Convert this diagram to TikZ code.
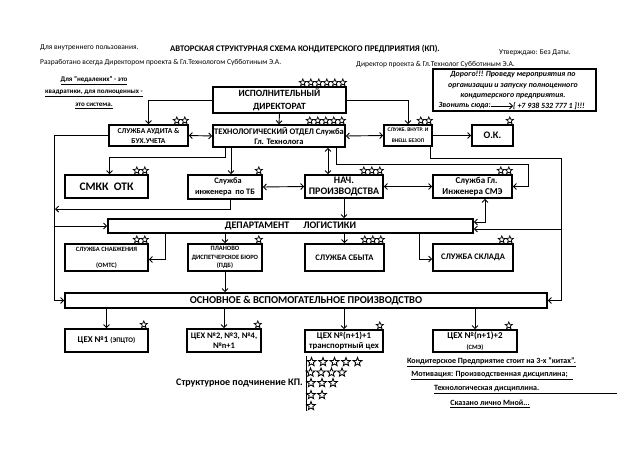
\documentclass[tikz,border=0pt]{standalone}
\usepackage{fontspec}
\setmainfont{Carlito}
\usetikzlibrary{arrows.meta,shapes.geometric}
\newcommand\fsz[2]{\fontsize{#1}{#2}\selectfont}
\newcommand\starsat[3]{%
  \foreach \k in {1,...,#2}{%
    \node[starshape] (#1-s\k) at ([xshift={#3-4-8*(\k-1)}, yshift=3.6pt]#1.north east) {};
  }}
\begin{document}
\begin{tikzpicture}[x=1pt,y=-1pt,
  box/.style={draw, line width=1.6pt, inner sep=0pt, align=center, font=\bfseries},
  arr/.style={line width=0.9pt, -{Straight Barb[length=3pt,width=6pt]}},
  dbl/.style={line width=0.9pt, {Straight Barb[length=3pt,width=6pt]}-{Straight Barb[length=3pt,width=6pt]}},
  starshape/.style={star, star points=5, star point ratio=2.3, draw, line width=0.75pt, minimum size=7.4pt, inner sep=0pt},
  lstar/.style={star, star points=5, star point ratio=2.3, draw, line width=0.85pt, minimum size=9pt, inner sep=0pt},
  small/.style={inner sep=0pt, font=\fsz{7.5}{9}},
  note/.style={inner sep=0pt, font=\fsz{7.9}{10.5}\bfseries\itshape, align=center},
  uline/.style={inner sep=0pt, font=\fsz{7}{9}\bfseries},
  uline2/.style={inner sep=0pt, font=\fsz{8}{9}\bfseries}
]
\useasboundingbox (0,0) rectangle (640,452);
\fill[white] (0,0) rectangle (640,452);

% header
\node[small, anchor=west] (h1) at (40,48) {Для внутреннего пользования.};
\node[inner sep=0pt, anchor=west, font=\fsz{8.6}{10}\bfseries] (title) at (170,48.5) {АВТОРСКАЯ СТРУКТУРНАЯ СХЕМА КОНДИТЕРСКОГО ПРЕДПРИЯТИЯ (КП).};
\node[small, anchor=west] (h2) at (499,53) {Утверждаю: Без Даты.};
\node[small, anchor=west] (h3) at (40,63) {Разработано всегда Директором проекта \& Гл.Технологом Субботиным Э.А.};
\node[small, anchor=west] (h4) at (356,64.5) {Директор проекта \& Гл.Технолог Субботиным Э.А.};
\coordinate (u1) at (523,68);
\coordinate (u2) at (585,68);
\draw[line width=0.6pt] (u1) -- (u2);

% left note
\node[uline] (ln1) at (94,81) {\underline{Для "недалеких" - это}};
\node[uline] (ln2) at (94,93.5) {\underline{квадратики, для полноценных -}};
\node[uline] (ln3) at (94,106) {\underline{это система.}};

% right note
\node[draw, line width=1.1pt, minimum width=163pt, minimum height=42pt, inner sep=0pt] (nb) at (514.5,90) {};
\node[note] (nt) at (513,85) {Дорого!!! Проведу мероприятия по\\организации и запуску полноценного\\кондитерского предприятия.};
\node[note, anchor=east] (z1) at (491,106) {Звонить сюда:};
\node[note, anchor=west] (z2) at (513,106) {[ +7 938 532 777 1 ]!!!};
\draw[arr, line width=0.8pt] (z1) -- (z2);

% boxes
\node[box, minimum width=133pt, minimum height=26pt, font=\fsz{9.5}{12.5}\bfseries] (dir) at (279.5,100) {ИСПОЛНИТЕЛЬНЫЙ\\ДИРЕКТОРАТ};
\node[box, minimum width=132pt, minimum height=22pt, font=\fsz{8.5}{10.5}\bfseries] (tech) at (279,136) {ТЕХНОЛОГИЧЕСКИЙ ОТДЕЛ Служба\\Гл. Технолога};
\node[box, minimum width=79pt, minimum height=21pt, font=\fsz{7.5}{10}\bfseries] (audit) at (148.5,135.5) {СЛУЖБА АУДИТА \&\\БУХ.УЧЕТА};
\node[box, minimum width=48pt, minimum height=21pt, font=\fsz{5.5}{11}\bfseries] (sec) at (408,135.5) {СЛУЖБ. ВНУТР. И\\ВНЕШ. БЕЗОП};
\node[box, minimum width=41pt, minimum height=21pt, font=\fsz{10}{12}\bfseries] (ok) at (492.5,135.5) {О.К.};
\node[box, minimum width=83pt, minimum height=23pt, font=\fsz{11.5}{12}\bfseries] (smkk) at (106.5,186.5) {СМКК\ \ ОТК};
\node[box, minimum width=74pt, minimum height=24pt, font=\fsz{8.3}{10.5}\bfseries] (tb) at (225,187) {\hspace*{6pt}Служба\\инженера\ \ по ТБ};
\node[box, minimum width=78pt, minimum height=23pt, font=\fsz{10}{11.5}\bfseries] (nach) at (344,186.5) {НАЧ.\\ПРОИЗВОДСТВА};
\node[box, minimum width=79pt, minimum height=23pt, font=\fsz{9}{11.5}\bfseries] (ing) at (472.5,186.5) {\hspace*{8pt}Служба Гл.\\Инженера СМЭ};
\node[box, minimum width=365pt, minimum height=14pt, font=\fsz{10}{12}\bfseries] (log) at (290.5,226) {ДЕПАРТАМЕНТ\hspace{14pt}ЛОГИСТИКИ};
\node[box, minimum width=83pt, minimum height=27pt, font=\fsz{6.5}{8}\bfseries] (snab) at (106.5,257.5) {СЛУЖБА СНАБЖЕНИЯ\\[8pt](ОМТС)};
\node[box, minimum width=74pt, minimum height=27pt, font=\fsz{6.5}{8.5}\bfseries] (pdb) at (225,257.5) {ПЛАНОВО\\ДИСПЕТЧЕРСКОЕ БЮРО\\(ПДБ)};
\node[box, minimum width=79pt, minimum height=27pt, font=\fsz{8.5}{9}\bfseries] (sbyt) at (344.5,257.5) {СЛУЖБА СБЫТА};
\node[box, minimum width=80pt, minimum height=27pt, font=\fsz{8.5}{9}\bfseries] (sklad) at (473,257.5) {СЛУЖБА СКЛАДА};
\node[box, minimum width=482pt, minimum height=15pt, font=\fsz{10.5}{12}\bfseries] (osn) at (306,300.5) {ОСНОВНОЕ \& ВСПОМОГАТЕЛЬНОЕ ПРОИЗВОДСТВО};
\node[box, minimum width=83pt, minimum height=23pt, font=\fsz{8.8}{9}\bfseries] (c1) at (106.5,340.5) {ЦЕХ №1 {\fsz{7}{9}(ЭПЦТО)}};
\node[box, minimum width=74pt, minimum height=23pt, font=\fsz{8.5}{10}\bfseries] (c2) at (224,340.5) {ЦЕХ №2, №3, №4,\\№n+1};
\node[box, minimum width=78pt, minimum height=22pt, font=\fsz{8.8}{10.5}\bfseries] (c3) at (344,341) {ЦЕХ №(n+1)+1\\транспортный цех};
\node[box, minimum width=84pt, minimum height=22pt, font=\fsz{9}{10.5}\bfseries] (c4) at (475,341) {ЦЕХ №(n+1)+2\\{\fsz{6.5}{10.5}(СМЭ)}};

% stars on boxes
\starsat{dir}{6}{0}
\starsat{tech}{5}{0}
\starsat{audit}{2}{0}
\starsat{sec}{2}{0}
\starsat{ok}{1}{0}
\starsat{smkk}{2}{0}
\starsat{tb}{1}{0}
\starsat{nach}{3}{0}
\starsat{ing}{2}{0}
\starsat{snab}{2}{0}
\starsat{pdb}{1}{0}
\starsat{sbyt}{3}{0}
\starsat{sklad}{2}{0}
\starsat{c1}{1}{-1}
\starsat{c2}{1}{0}
\starsat{c3}{1}{0}
\starsat{c4}{1}{-5}

% connectors top
\draw[arr] (dir.west) -| (audit.north);
\draw[arr] (dir.south) -- (tech.north);
\draw[arr] (dir.east) -| (sec.north);
\draw[dbl] (audit.east) -- (tech.west);
\draw[dbl] (tech.east) -- (sec.west);
\draw[arr] (sec.east) -- (ok.west);

% right bus
\coordinate (r1) at (561,158);
\coordinate (rb) at (561,229);
\draw[arr] ([xshift=22pt]sec.south) |- (r1) |- (osn.east);
\draw[arr] (rb) -- (rb -| log.east);

% left bus
\coordinate (l1) at (54,135.5);
\coordinate (lt) at (55,209);
\draw[arr] (audit.west) -- (l1) |- (osn.west);
\draw[arr] (log.west -| l1) -- (log.west);
\draw[arr] ([xshift=5pt]tb.south) |- (lt);

% technology dept down
\coordinate (t1) at (225,157);
\draw[arr] ([xshift=-54pt]tech.south) -- (t1) -| ([xshift=3pt]smkk.north);
\draw[arr] ([xshift=-48pt]tech.south) -- ([xshift=-48pt]tech.south |- tb.north);
\draw[dbl] ([xshift=49pt]tech.south) -- ([xshift=49pt]tech.south |- nach.north);
\coordinate (t2) at (528,164);
\draw[arr] ([xshift=57pt]tech.south) |- (t2) |- (ing.east);

% middle row
\draw[dbl] (tb.east) -- (nach.west);
\draw[dbl] (nach.east) -- (ing.west);
\draw[arr] (nach.south) -- (nach.south |- log.north);
\draw[dbl] ([xshift=12.5pt]ing.south) |- ([yshift=4pt]log.east);

% logistics down
\draw[arr] ([xshift=-125.5pt]log.south) |- ([yshift=-2pt]snab.east);
\draw[arr] (log.south -| pdb.north) -- (pdb.north);
\draw[arr] (log.south -| sbyt.north) -- (sbyt.north);
\draw[arr] ([xshift=128.5pt]log.south) |- ([yshift=-1.5pt]sklad.west);
\draw[arr] (pdb.south) -- (pdb.south |- osn.north);

% production down
\draw[arr] (osn.south -| c1.north) -- (c1.north);
\draw[arr] (osn.south -| c2.north) -- (c2.north);
\draw[arr] (osn.south -| c3.north) -- (c3.north);
\draw[arr] (osn.south -| c4.north) -- (c4.north);

% legend
\coordinate (v1) at (306,356);
\coordinate (v2) at (306,411);
\draw[line width=0.9pt] (v1) -- (v2);
\node[inner sep=0pt, anchor=east, font=\fsz{10}{11}\bfseries] (sub) at (303,383) {Структурное подчинение КП.};
\foreach \i in {1,...,5} \node[lstar] (la\i) at (300+11.5*\i,362) {};
\foreach \i in {1,...,4} \node[lstar] (lb\i) at (300+10.5*\i,372.5) {};
\foreach \i in {1,...,3} \node[lstar] (lc\i) at (300+11*\i,383) {};
\foreach \i in {1,...,2} \node[lstar] (ld\i) at (300+11*\i,395) {};
\node[lstar] (le1) at (311,406) {};

% right texts
\node[uline2] (k1) at (491.5,362) {\underline{Кондитерское Предприятие стоит на 3-х "китах".}};
\node[uline2] (k2) at (492,376) {\underline{Мотивация: Производственная дисциплина;\hspace*{5pt}}};
\node[uline2, anchor=west] (k3) at (434,389.5) {\underline{Технологическая дисциплина.\hspace*{78pt}}};
\node[uline2] (k4) at (490,404) {\underline{Сказано лично Мной...}};
\end{tikzpicture}
\end{document}
